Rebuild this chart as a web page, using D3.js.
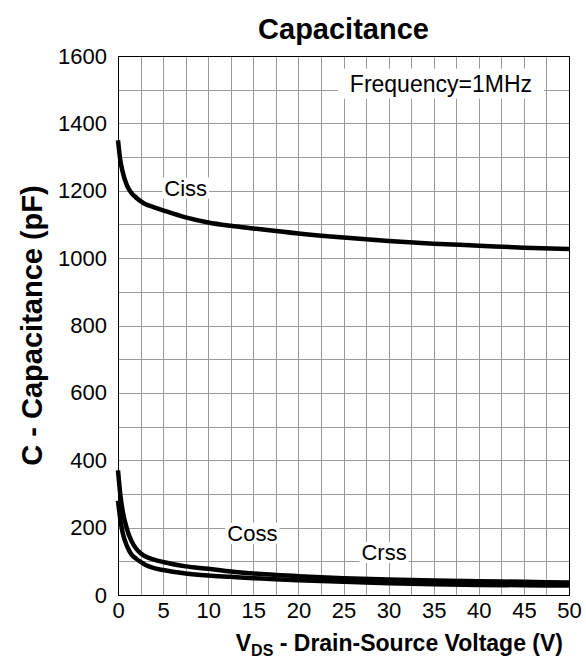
<!DOCTYPE html>
<html>
<head>
<meta charset="utf-8">
<script src="https://cdn.jsdelivr.net/npm/d3@7"></script>
<style>
  body { margin: 0; background: #fff; }
  text { font-family: "Liberation Sans", Arial, sans-serif; fill: #000; }
</style>
</head>
<body>
<div id="chart"></div>
<script>
// data
const vds  = [0, 0.25, 0.5, 1, 1.5, 2, 2.5, 3, 4, 5, 7.5, 10, 12.5, 15, 20, 25, 30, 35, 40, 45, 50];
const ciss = [1350, 1292, 1258, 1215, 1193, 1180, 1169, 1161, 1151, 1142, 1121, 1106, 1096, 1088, 1073, 1061, 1051, 1043, 1037, 1031, 1027];
const coss = [370, 300, 252, 195, 160, 138, 124, 115, 105, 98, 85, 78, 70, 64, 56, 50, 46, 43, 41, 39, 37];
const crss = [280, 226, 187, 145, 120, 108, 98, 90, 80, 74, 64, 58, 54, 50, 44, 39, 35, 32, 30, 29, 28];
const xTicks = [0, 5, 10, 15, 20, 25, 30, 35, 40, 45, 50];
const yTicks = [0, 200, 400, 600, 800, 1000, 1200, 1400, 1600];
const curveLabels = [
  {text: 'Ciss', x: 7.5, y: 1203},
  {text: 'Coss', x: 14.9, y: 178},
  {text: 'Crss', x: 29.5, y: 121}
];

const margin = {top: 56, right: 17, bottom: 67, left: 118};
const W = 586, H = 662;
const w = W - margin.left - margin.right;
const h = H - margin.top - margin.bottom;

const svg = d3.select('#chart').append('svg')
  .attr('width', W)
  .attr('height', H);

const g = svg.append('g')
  .attr('transform', `translate(${margin.left},${margin.top})`);

const x = d3.scaleLinear().domain([0, 50]).range([0, w]);
const y = d3.scaleLinear().domain([0, 1600]).range([h, 0]);

// grid, every 2.5 V and every 100 pF
const gridX = d3.range(2.5, 50, 2.5);
const gridY = d3.range(100, 1600, 100);
g.append('g').selectAll('line').data(gridX).enter().append('line')
  .attr('x1', d => Math.round(x(d)) + 0.5).attr('x2', d => Math.round(x(d)) + 0.5)
  .attr('y1', 0).attr('y2', h)
  .attr('stroke', '#9a9a9a').attr('stroke-width', 1);
g.append('g').selectAll('line').data(gridY).enter().append('line')
  .attr('y1', d => Math.round(y(d)) + 0.5).attr('y2', d => Math.round(y(d)) + 0.5)
  .attr('x1', 0).attr('x2', w)
  .attr('stroke', '#9a9a9a').attr('stroke-width', 1);

// frame
g.append('rect')
  .attr('x', 0.5).attr('y', 0.5)
  .attr('width', w).attr('height', h)
  .attr('fill', 'none').attr('stroke', '#000').attr('stroke-width', 1);

// axes
const xAxis = d3.axisBottom(x).tickValues(xTicks).tickFormat(d3.format('d')).tickSize(0).tickPadding(7);
const yAxis = d3.axisLeft(y).tickValues(yTicks).tickFormat(d3.format('d')).tickSize(0).tickPadding(11);
const xa = g.append('g').attr('transform', `translate(0,${h})`).call(xAxis);
const ya = g.append('g').call(yAxis);
[xa, ya].forEach(a => {
  a.select('.domain').remove();
  a.selectAll('text').style('font-size', '22px').attr('fill', '#000');
});

// curves
const line = d3.line()
  .x(d => x(d[0]))
  .y(d => y(d[1]))
  .curve(d3.curveMonotoneX);

[ciss, coss, crss].forEach(s => {
  g.append('path')
    .attr('d', line(vds.map((v, i) => [v, s[i]])))
    .attr('fill', 'none')
    .attr('stroke', '#000')
    .attr('stroke-width', 4.5);
});

// labels with white boxes
function boxedLabel(txt, cx, cy, size, padX, padY) {
  const t = g.append('text')
    .attr('x', cx).attr('y', cy)
    .attr('text-anchor', 'middle')
    .attr('dominant-baseline', 'middle')
    .style('font-size', size + 'px')
    .text(txt);
  const b = t.node().getBBox();
  g.insert('rect', () => t.node())
    .attr('x', b.x - padX).attr('y', b.y - padY)
    .attr('width', b.width + 2 * padX).attr('height', b.height + 2 * padY)
    .attr('fill', '#fff');
}
curveLabels.forEach(l => boxedLabel(l.text, x(l.x), y(l.y), 22, 2, -2));
boxedLabel('Frequency=1MHz', x(35.8), y(1512), 23, 12, 2);

// titles
svg.append('text')
  .attr('x', margin.left + w / 2).attr('y', 39)
  .attr('text-anchor', 'middle')
  .style('font-size', '29px').style('font-weight', 'bold')
  .text('Capacitance');

const xt = svg.append('text')
  .attr('x', 563).attr('y', 651)
  .attr('text-anchor', 'end')
  .style('font-size', '23px').style('font-weight', 'bold');
xt.append('tspan').text('V');
xt.append('tspan').attr('dy', 5).style('font-size', '16px').text('DS');
xt.append('tspan').attr('dy', -5).text(' - Drain-Source Voltage (V)');

svg.append('text')
  .attr('transform', `translate(42,${margin.top + h / 2}) rotate(-90)`)
  .attr('text-anchor', 'middle')
  .style('font-size', '29px').style('font-weight', 'bold')
  .text('C - Capacitance (pF)');
</script>
</body>
</html>
